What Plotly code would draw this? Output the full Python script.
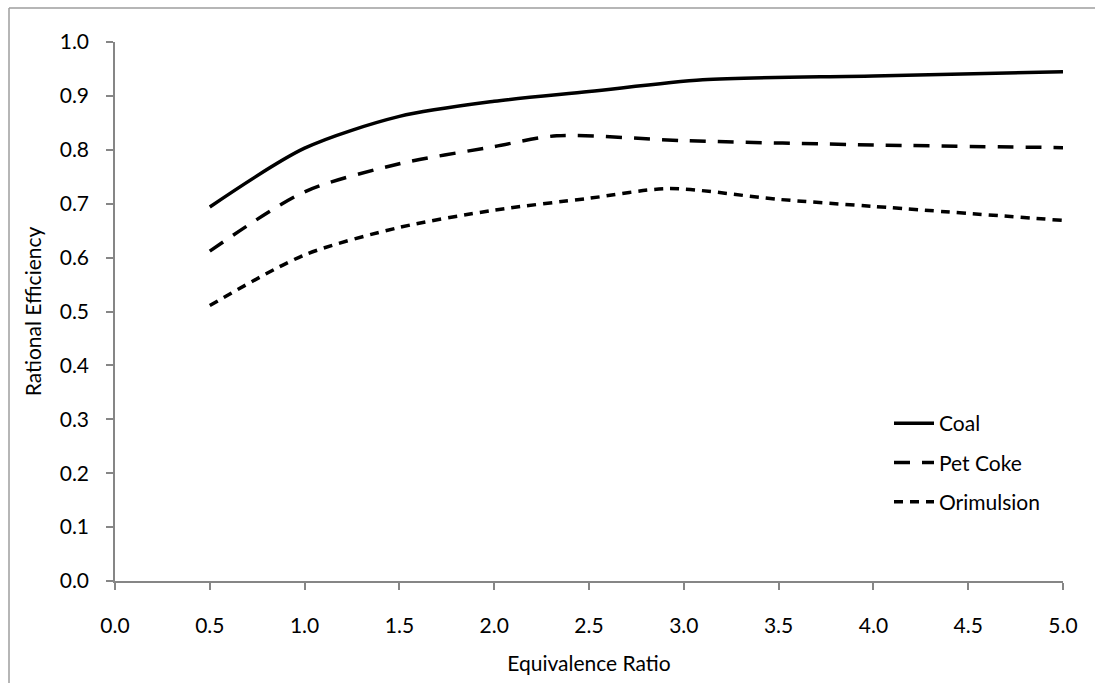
import plotly.graph_objects as go

# Data
coal_x = [0.5, 1.0, 1.5, 2.0, 2.5, 3.1, 4.0, 5.0]
coal_y = [0.694, 0.803, 0.862, 0.890, 0.908, 0.930, 0.937, 0.945]

petcoke_x = [0.5, 1.0, 1.5, 2.0, 2.33, 3.0, 4.0, 5.0]
petcoke_y = [0.612, 0.722, 0.774, 0.806, 0.826, 0.817, 0.809, 0.804]

orim_x = [0.5, 1.0, 1.5, 2.0, 2.5, 2.92, 3.5, 4.0, 5.0]
orim_y = [0.511, 0.605, 0.656, 0.688, 0.710, 0.728, 0.708, 0.695, 0.669]

x_ticks = [0.0, 0.5, 1.0, 1.5, 2.0, 2.5, 3.0, 3.5, 4.0, 4.5, 5.0]
y_ticks = [0.0, 0.1, 0.2, 0.3, 0.4, 0.5, 0.6, 0.7, 0.8, 0.9, 1.0]

FONT = "Lato"
FS = 21
W, H = 1095, 683
ml, mr, mt, mb = 115, 32, 42, 102

fig = go.Figure()
fig.add_trace(go.Scatter(x=coal_x, y=coal_y, name="Coal", mode="lines",
                         line=dict(color="black", width=3.5, shape="spline", smoothing=0.8),
                         legendgroup="a"))
fig.add_trace(go.Scatter(x=petcoke_x, y=petcoke_y, name="Pet Coke", mode="lines",
                         line=dict(color="black", width=3.5, dash="16px,12px", shape="spline", smoothing=0.8),
                         legendgroup="b"))
fig.add_trace(go.Scatter(x=orim_x, y=orim_y, name="Orimulsion", mode="lines",
                         line=dict(color="black", width=3.5, dash="9px,7px", shape="spline", smoothing=0.8),
                         legendgroup="c"))

pw = W - ml - mr
ph = H - mt - mb
def px2paperx(p):
    return (p - ml) / pw
def py2papery(p):
    return (H - mb - p) / ph

axis_col = "#868686"
fig.update_layout(
    width=W, height=H,
    margin=dict(l=ml, r=mr, t=mt, b=mb),
    paper_bgcolor="white", plot_bgcolor="white",
    font=dict(family=FONT, size=FS, color="black"),
    showlegend=True,
    legend=dict(x=px2paperx(889), y=py2papery(403), xanchor="left", yanchor="top",
                bgcolor="rgba(0,0,0,0)", font=dict(family=FONT, size=FS),
                tracegroupgap=9, itemwidth=40),
    xaxis=dict(range=[0, 5], tickvals=x_ticks, ticktext=[f"{v:.1f}" for v in x_ticks],
               showgrid=False, zeroline=False, showline=True, linecolor=axis_col, linewidth=1.5,
               ticks="outside", ticklen=7, tickcolor=axis_col, tickwidth=1.5,
               ticklabelstandoff=18,
               tickfont=dict(family=FONT, size=FS),
               title=dict(text="Equivalence Ratio", font=dict(family=FONT, size=FS), standoff=20)),
    yaxis=dict(range=[0, 1.0], tickvals=y_ticks, ticktext=[f"{v:.1f}" for v in y_ticks],
               showgrid=False, zeroline=False, showline=True, linecolor=axis_col, linewidth=1.5,
               ticks="outside", ticklen=7, tickcolor=axis_col, tickwidth=1.5,
               ticklabelstandoff=13,
               tickfont=dict(family=FONT, size=FS),
               title=dict(text="Rational Efficiency", font=dict(family=FONT, size=FS), standoff=12)),
)

# chart-area border (left and top edges visible in the reference)
border_col = "#9e9e9e"
fig.add_shape(type="line", xref="paper", yref="paper",
              x0=px2paperx(9), x1=px2paperx(9), y0=py2papery(8), y1=py2papery(700),
              line=dict(color=border_col, width=1.5))
fig.add_shape(type="line", xref="paper", yref="paper",
              x0=px2paperx(9), x1=px2paperx(1100), y0=py2papery(8), y1=py2papery(8),
              line=dict(color=border_col, width=1.5))

fig.write_html("out.html")
